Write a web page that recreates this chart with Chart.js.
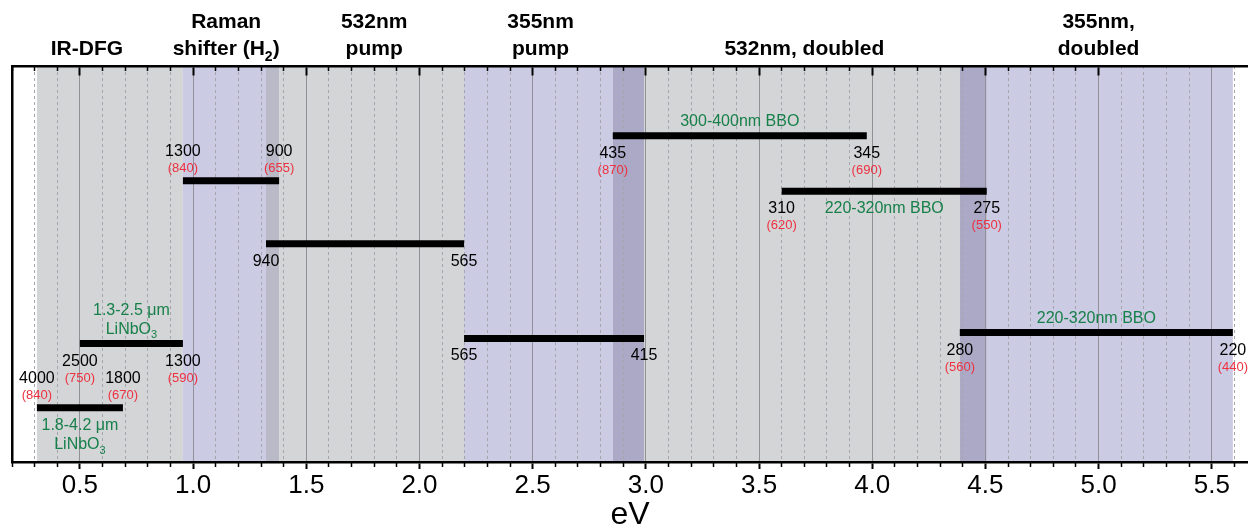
<!DOCTYPE html>
<html>
<head>
<meta charset="utf-8">
<script src="https://cdn.jsdelivr.net/npm/chart.js@4.4.1/dist/chart.umd.min.js"></script>
<style>
  html, body { margin: 0; padding: 0; background: #fff; }
  #wrap { width: 1248px; height: 529px; }
</style>
</head>
<body>
<div id="wrap"><canvas id="chart" width="1248" height="529"></canvas></div>
<script>
// tuning ranges of each stage, in eV
const barStart = [0.31, 0.50, 0.955, 1.322, 2.197, 2.854, 3.60, 4.387];
const barEnd   = [0.69, 0.955, 1.38, 2.197, 2.992, 3.976, 4.506, 5.593];
const barLevel = [13.7, 29.9, 71.0, 55.1, 31.2, 82.4, 68.4, 32.7];

// wavelength at each end (nm) and the matching dye/fundamental (nm)
const startNm   = ['4000', '2500', '1300', '940', '565', '435', '310', '280'];
const startFund = ['(840)', '(750)', '(840)', '', '', '(870)', '(620)', '(560)'];
const endNm     = ['1800', '1300', '900', '565', '415', '345', '275', '220'];
const endFund   = ['(670)', '(590)', '(655)', '', '', '(690)', '(550)', '(440)'];
const nmSide    = ['above', 'below', 'above', 'below', 'below', 'below', 'below', 'below'];

// crystal used for each range
const crystal = [['1.8-4.2 μm', 'LiNbO{3}'], ['1.3-2.5 μm', 'LiNbO{3}'], [], [], [], ['300-400nm BBO'], ['220-320nm BBO'], ['220-320nm BBO']];
const crystalSide = ['below', 'above', '', '', '', 'above', 'inline', 'above'];

// shaded regions (gray / lavender, darker where two overlap)
const bandStart = [0.31, 0.955, 1.322, 1.38, 2.197, 2.854, 2.992, 4.387, 4.506];
const bandEnd   = [0.955, 1.322, 1.38, 2.197, 2.854, 2.992, 4.387, 4.506, 5.593];
const bandColor = ['#d4d5d7', '#cbcbe3', '#b9b9c7', '#d4d5d7', '#cbcbe3', '#aca9c7', '#d4d5d7', '#aca9c7', '#cbcbe3'];

// headings over the regions
const regionTitle   = [['', 'IR-DFG'], ['Raman', 'shifter (H{2})'], ['532nm', 'pump'], ['355nm', 'pump'], ['', '532nm, doubled'], ['355nm,', 'doubled']];
const regionTitleEV = [0.531, 1.146, 1.80, 2.535, 3.70, 5.0];

const EV_MIN = 0.2, EV_MAX = 5.66;
const FONT = '"Liberation Sans", Arial, Helvetica, sans-serif';
const GREEN = '#17804a', RED = '#ee3040';

Chart.defaults.font.family = FONT;

const isMajor = v => Math.abs(v * 2 - Math.round(v * 2)) < 1e-6;
const onTenth = v => Math.abs(v * 10 - Math.round(v * 10)) < 1e-6;
const keepMajor = s => { s.ticks = s.ticks.filter(t => isMajor(t.value)); };
const keepMinor = s => { s.ticks = s.ticks.filter(t => onTenth(t.value) && !isMajor(t.value)); };
const topTickColor = c => (c.tick && c.tick.value <= 5.001) ? '#000' : 'rgba(0,0,0,0)';

// text with {subscript} parts, centred on x
function drawRich(ctx, text, x, y, size, color, bold) {
  const parts = text.split(/\{([^}]*)\}/);
  const w = bold ? 'bold ' : '';
  const subSize = Math.round(size * 0.68);
  let total = 0;
  parts.forEach((p, i) => {
    ctx.font = w + (i % 2 ? subSize : size) + 'px ' + FONT;
    total += ctx.measureText(p).width;
  });
  let cx = x - total / 2;
  ctx.fillStyle = color;
  ctx.textAlign = 'left';
  ctx.textBaseline = 'alphabetic';
  parts.forEach((p, i) => {
    ctx.font = w + (i % 2 ? subSize : size) + 'px ' + FONT;
    ctx.fillText(p, cx, y + (i % 2 ? size * 0.3 : 0));
    cx += ctx.measureText(p).width;
  });
}

const bandsPlugin = {
  id: 'bands',
  beforeDraw(chart) {
    const {ctx, chartArea: a, scales: {x}} = chart;
    ctx.save();
    bandStart.forEach((s, i) => {
      const l = x.getPixelForValue(s), r = x.getPixelForValue(bandEnd[i]);
      ctx.fillStyle = bandColor[i];
      ctx.fillRect(l, a.top, r - l, a.bottom - a.top);
    });
    ctx.restore();
  }
};

const labelsPlugin = {
  id: 'barLabels',
  afterDatasetsDraw(chart) {
    const {ctx, scales: {x, y}} = chart;
    ctx.save();
    barStart.forEach((s, i) => {
      const x0 = x.getPixelForValue(s), x1 = x.getPixelForValue(barEnd[i]);
      const yy = y.getPixelForValue(barLevel[i]);
      const up = nmSide[i] === 'above';
      const nY = up ? yy - 25 : yy + 22;
      const fY = up ? yy - 9 : yy + 38;
      drawRich(ctx, startNm[i], x0, nY, 16, '#000');
      drawRich(ctx, endNm[i], x1, nY, 16, '#000');
      if (startFund[i]) drawRich(ctx, startFund[i], x0, fY, 13, RED);
      if (endFund[i]) drawRich(ctx, endFund[i], x1, fY, 13, RED);
      const lines = crystal[i];
      const mid = (x0 + x1) / 2;
      if (crystalSide[i] === 'above') {
        lines.forEach((t, k) => drawRich(ctx, t, mid, yy - 10 - 19 * (lines.length - 1 - k), 16, GREEN));
      } else if (crystalSide[i] === 'below') {
        lines.forEach((t, k) => drawRich(ctx, t, mid, yy + 22 + 19.5 * k, 16, GREEN));
      } else if (crystalSide[i] === 'inline') {
        lines.forEach(t => drawRich(ctx, t, mid, yy + 22, 16, GREEN));
      }
    });
    ctx.restore();
  }
};

const titlesPlugin = {
  id: 'regionTitles',
  afterDraw(chart) {
    const {ctx, scales: {x}} = chart;
    ctx.save();
    regionTitle.forEach((lines, i) => {
      const cx = x.getPixelForValue(regionTitleEV[i]);
      if (lines[0]) drawRich(ctx, lines[0], cx, 28, 21, '#000', true);
      if (lines[1]) drawRich(ctx, lines[1], cx, 55, 21, '#000', true);
    });
    ctx.restore();
  }
};

new Chart(document.getElementById('chart'), {
  type: 'line',
  data: {
    datasets: barStart.map((s, i) => ({
      data: [{x: s, y: barLevel[i]}, {x: barEnd[i], y: barLevel[i]}],
      borderColor: '#000',
      borderWidth: 7,
      borderCapStyle: 'butt',
      pointRadius: 0,
      fill: false
    }))
  },
  options: {
    responsive: false,
    animation: false,
    layout: { padding: { left: 12, right: 0, top: 66, bottom: 0 } },
    plugins: { legend: { display: false }, tooltip: { enabled: false } },
    scales: {
      x: {
        type: 'linear', position: 'bottom', min: EV_MIN, max: EV_MAX,
        afterBuildTicks: keepMajor,
        ticks: {
          stepSize: 0.5, includeBounds: false, autoSkip: false, maxRotation: 0, padding: 6, color: '#000',
          font: { size: 26, lineHeight: 0.8 },
          callback: v => v.toFixed(1)
        },
        grid: { color: '#909096', lineWidth: 1, tickLength: 7, tickWidth: 2, tickColor: '#000' },
        border: { color: '#000', width: 2.5 },
        title: { display: true, text: 'eV', color: '#000', font: { size: 32, lineHeight: 0.85 }, padding: { top: 0, bottom: 0 } }
      },
      xMinor: {
        type: 'linear', axis: 'x', position: { y: 0 }, min: EV_MIN, max: EV_MAX,
        afterBuildTicks: keepMinor,
        ticks: { stepSize: 0.1, includeBounds: false, display: false },
        grid: { color: '#a5a5ab', lineWidth: 1, tickLength: 5, tickWidth: 1.5, tickColor: '#000', tickBorderDash: [] },
        border: { display: false, dash: [3, 3] }
      },
      xTopMajor: {
        type: 'linear', axis: 'x', position: { y: 100 }, min: EV_MIN, max: EV_MAX,
        afterBuildTicks: keepMajor,
        ticks: { stepSize: 0.5, includeBounds: false, display: false },
        grid: { drawOnChartArea: false, tickLength: 8, tickWidth: 2, tickColor: topTickColor },
        border: { display: true, color: '#000', width: 2.5 }
      },
      xTopMinor: {
        type: 'linear', axis: 'x', position: { y: 100 }, min: EV_MIN, max: EV_MAX,
        afterBuildTicks: keepMinor,
        ticks: { stepSize: 0.1, includeBounds: false, display: false },
        grid: { drawOnChartArea: false, tickLength: 5, tickWidth: 1.5, tickColor: topTickColor },
        border: { display: false }
      },
      y: {
        type: 'linear', min: 0, max: 100,
        ticks: { display: false },
        grid: { display: false, drawTicks: false },
        border: { display: true, color: '#000', width: 2.5 }
      }
    }
  },
  plugins: [bandsPlugin, labelsPlugin, titlesPlugin]
});
</script>
</body>
</html>
